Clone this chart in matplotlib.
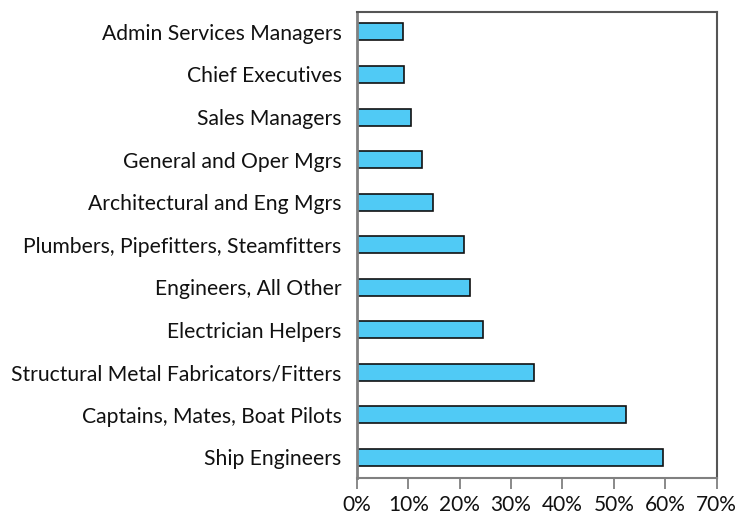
import matplotlib
import numpy as np

matplotlib.use("Agg")
import matplotlib.pyplot as plt
from matplotlib.ticker import FuncFormatter

occupations = [
    "Ship Engineers",
    "Captains, Mates, Boat Pilots",
    "Structural Metal Fabricators/Fitters",
    "Electrician Helpers",
    "Engineers, All Other",
    "Plumbers, Pipefitters, Steamfitters",
    "Architectural and Eng Mgrs",
    "General and Oper Mgrs",
    "Sales Managers",
    "Chief Executives",
    "Admin Services Managers",
]
shares = [59.6, 52.4, 34.4, 24.5, 22.0, 20.9, 14.8, 12.6, 10.6, 9.2, 8.9]
x_ticks = [0, 10, 20, 30, 40, 50, 60, 70]

plt.rcParams["font.family"] = ["Lato", "DejaVu Sans"]

fig = plt.figure(figsize=(7.38, 5.17), dpi=100)
ax = fig.add_axes([0.4837, 0.0754, 0.4872, 0.9014])

y = np.arange(len(occupations))
ax.barh(y, shares, height=0.4, color="#50CAF5", edgecolor="#111111", linewidth=1.2)

ax.set_xlim(0, 70)
ax.set_ylim(-0.49, 10.47)
ax.set_xticks(x_ticks)
ax.xaxis.set_major_formatter(FuncFormatter(lambda v, _: f"{v:.0f}%"))
ax.set_yticks(y)
ax.set_yticklabels(occupations)

ax.tick_params(axis="x", direction="out", length=8, width=1.3, color="#808080",
               labelsize=15, pad=4, labelcolor="#111111")
ax.tick_params(axis="y", length=0, labelsize=15.2, pad=11, labelcolor="#111111")

ax.spines["left"].set_color("#808080")
ax.spines["left"].set_linewidth(2)
ax.spines["bottom"].set_color("#808080")
ax.spines["bottom"].set_linewidth(1.5)
for side in ("top", "right"):
    ax.spines[side].set_color("#555555")
    ax.spines[side].set_linewidth(1.5)

fig.savefig("out.png", dpi=100)
plt.close(fig)
